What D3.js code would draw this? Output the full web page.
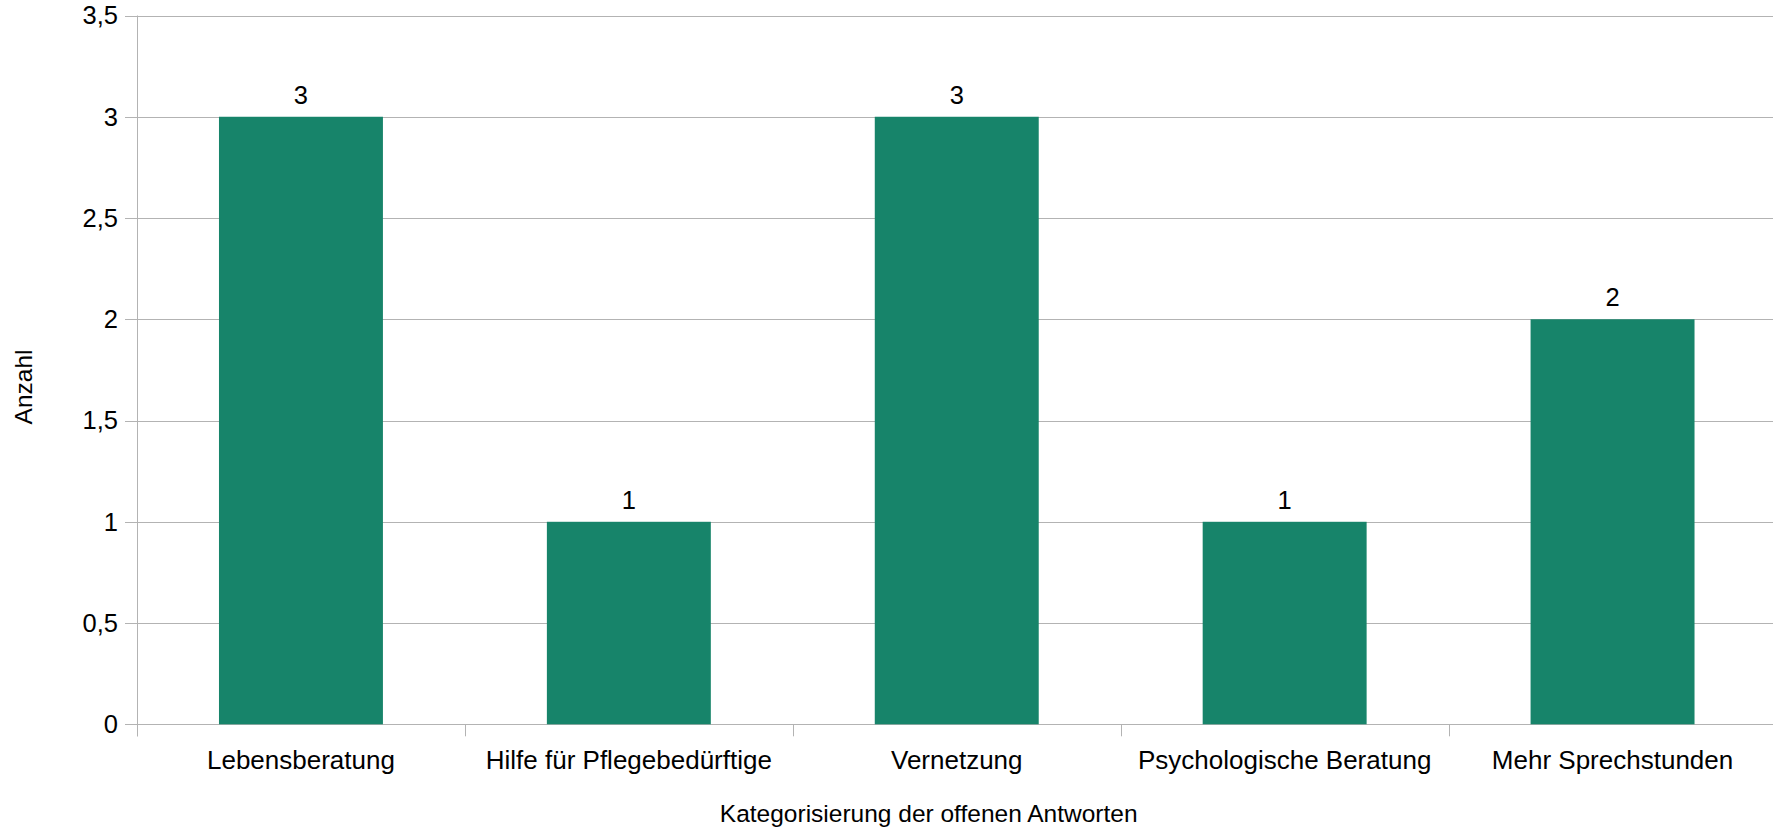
<!DOCTYPE html>
<html>
<head>
<meta charset="utf-8">
<script src="https://cdn.jsdelivr.net/npm/d3@7"></script>
<style>
  html, body { margin: 0; padding: 0; background: #fff; }
  svg text { font-family: "Liberation Sans", Arial, sans-serif; fill: #000; }
</style>
</head>
<body>
<svg id="chart" width="1773" height="831"></svg>
<script>
const categories = ["Lebensberatung", "Hilfe für Pflegebedürftige", "Vernetzung", "Psychologische Beratung", "Mehr Sprechstunden"];
const values = [3, 1, 3, 1, 2];
const yTicks = [0, 0.5, 1, 1.5, 2, 2.5, 3, 3.5];
const xTitle = "Kategorisierung der offenen Antworten";
const yTitle = "Anzahl";

(function () {
const svg = d3.select("#chart");
const pLeft = 137, pRight = 1776.5, pTop = 15.5, pBottom = 724.3;
const gridColor = "#b3b3b3";
const barColor = "#17846a";

const x = d3.scaleBand().domain(categories).range([pLeft, pRight]).paddingInner(0.5).paddingOuter(0.25);
const y = d3.scaleLinear().domain([0, 3.5]).range([pBottom, pTop]);
const fmt = v => String(v).replace(".", ",");

// gridlines
svg.append("g").selectAll("line").data(yTicks).join("line")
  .attr("x1", pLeft - 12).attr("x2", 1773)
  .attr("y1", d => Math.round(y(d)) + 0.5).attr("y2", d => Math.round(y(d)) + 0.5)
  .attr("stroke", gridColor).attr("stroke-width", 1);

// y axis line
svg.append("line").attr("x1", pLeft + 0.5).attr("x2", pLeft + 0.5)
  .attr("y1", pTop).attr("y2", pBottom + 12)
  .attr("stroke", gridColor);

// x category boundary ticks
const step = x.step();
const bounds = d3.range(categories.length + 1).map(i => pLeft + i * step);
svg.append("g").selectAll("line").data(bounds).join("line")
  .attr("x1", d => Math.round(d) + 0.5).attr("x2", d => Math.round(d) + 0.5)
  .attr("y1", pBottom).attr("y2", pBottom + 12)
  .attr("stroke", gridColor);

// y tick labels
svg.append("g").selectAll("text").data(yTicks).join("text")
  .attr("x", 118).attr("y", d => y(d)).attr("dy", "0.35em")
  .attr("text-anchor", "end").attr("font-size", 25.5)
  .text(fmt);

// bars
svg.append("g").selectAll("rect").data(values).join("rect")
  .attr("x", (d, i) => x(categories[i]))
  .attr("width", x.bandwidth())
  .attr("y", d => y(d))
  .attr("height", d => y(0) - y(d))
  .attr("fill", barColor);

// value labels
svg.append("g").selectAll("text").data(values).join("text")
  .attr("x", (d, i) => x(categories[i]) + x.bandwidth() / 2)
  .attr("y", d => y(d) - 13)
  .attr("text-anchor", "middle").attr("font-size", 25.5)
  .text(d => d);

// category labels
svg.append("g").selectAll("text").data(categories).join("text")
  .attr("x", d => x(d) + x.bandwidth() / 2)
  .attr("y", 769)
  .attr("text-anchor", "middle").attr("font-size", 26)
  .text(d => d);

// axis titles
svg.append("text").attr("x", 928.7).attr("y", 822)
  .attr("text-anchor", "middle").attr("font-size", 24.5).text(xTitle);
svg.append("text").attr("transform", "translate(32,387) rotate(-90)")
  .attr("text-anchor", "middle").attr("font-size", 24.5).text(yTitle);
})();
</script>
</body>
</html>
